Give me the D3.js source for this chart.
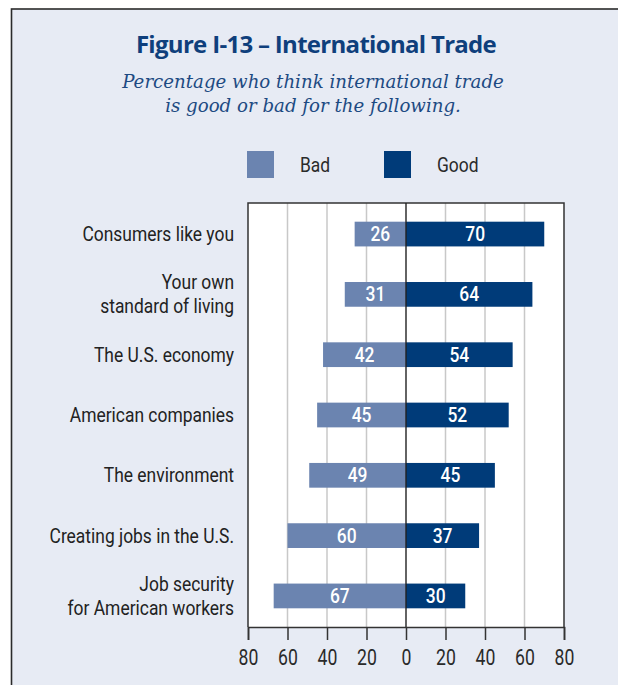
<!DOCTYPE html>
<html><head><meta charset="utf-8">
<script src="https://cdn.jsdelivr.net/npm/d3@7"></script>
<style>
html,body{margin:0;padding:0;background:#fff;}
svg{display:block;}
</style>
</head><body>
<script>
const categories = [
  ["Consumers like you"],
  ["Your own", "standard of living"],
  ["The U.S. economy"],
  ["American companies"],
  ["The environment"],
  ["Creating jobs in the U.S."],
  ["Job security", "for American workers"]
];
const badValues = [26, 31, 42, 45, 49, 60, 67];
const goodValues = [70, 64, 54, 52, 45, 37, 30];
const tickValues = [-80, -60, -40, -20, 0, 20, 40, 60, 80];
const seriesNames = ["Bad", "Good"];
const title = "Figure I-13 \u2013 International Trade";
const subtitle = ["Percentage who think international trade", "is good or bad for the following."];

const W = 618, H = 685;
const colBad = "#6b84b0", colGood = "#003b79", bg = "#e7ebf4";
const narrow = "'Liberation Sans Narrow','Arial Narrow','Roboto',sans-serif";
const SX = 0.83;

const svg = d3.select("body").append("svg").attr("width", W).attr("height", H);
svg.append("rect").attr("width", W).attr("height", H).attr("fill", "#fff");
svg.append("rect").attr("x", 11.5).attr("y", 9).attr("width", W + 20).attr("height", H + 20)
  .attr("fill", bg).attr("stroke", "#2b2b2b").attr("stroke-width", 1.6);

function ctext(g, tx, ty, str, size, fill, anchor, weight) {
  return g.append("text").attr("transform", `translate(${tx},${ty}) scale(${SX},1)`)
    .attr("text-anchor", anchor || "middle").attr("font-family", narrow).attr("font-size", size)
    .attr("font-weight", weight || 400).attr("fill", fill).text(str);
}

// Title
svg.append("text").attr("x", 316).attr("y", 53).attr("text-anchor", "middle")
  .attr("font-family", "'Open Sans','Noto Sans',sans-serif").attr("font-weight", 700)
  .attr("font-size", 24).attr("fill", "#0f3f7c").attr("letter-spacing", -0.7).text(title);
svg.selectAll("text.sub").data(subtitle).enter().append("text").attr("class", "sub")
  .attr("x", 313).attr("y", (d, i) => 88 + i * 24).attr("text-anchor", "middle")
  .attr("font-family", "'DejaVu Serif','Liberation Serif',serif").attr("font-style", "italic")
  .attr("font-size", 18.2).attr("fill", "#1d4a82").text(d => d);

// Scales
const x = d3.scaleLinear().domain([-80, 80]).range([248, 564]);
const y = d3.scaleBand().domain(d3.range(categories.length)).range([203, 627]).paddingInner(0.59).paddingOuter(0.31);

// plot bg
svg.append("rect").attr("x", x(-80)).attr("y", 203).attr("width", x(80) - x(-80)).attr("height", 627 - 203).attr("fill", "#fff");
// grid
svg.selectAll("line.grid").data(tickValues.filter(t => t !== 0 && Math.abs(t) !== 80)).enter().append("line")
  .attr("x1", d => x(d)).attr("x2", d => x(d)).attr("y1", 203).attr("y2", 627)
  .attr("stroke", "#c8c8c8").attr("stroke-width", 1.5);

// bars
const rows = categories.map((c, i) => ({c, i, bad: badValues[i], good: goodValues[i]}));
svg.selectAll("rect.bad").data(rows).enter().append("rect")
  .attr("x", d => x(-d.bad)).attr("y", d => y(d.i)).attr("width", d => x(0) - x(-d.bad)).attr("height", y.bandwidth())
  .attr("fill", colBad);
svg.selectAll("rect.good").data(rows).enter().append("rect")
  .attr("x", x(0)).attr("y", d => y(d.i)).attr("width", d => x(d.good) - x(0)).attr("height", y.bandwidth())
  .attr("fill", colGood);
rows.forEach(d => {
  const cy = y(d.i) + y.bandwidth() / 2 + 7;
  ctext(svg, (x(-d.bad) + x(0)) / 2, cy, d.bad, 21, "#fff", "middle", 500);
  ctext(svg, (x(d.good) + x(0)) / 2, cy, d.good, 21, "#fff", "middle", 500);
});

// frame
svg.append("path").attr("d", `M${x(-80)},627V203H${x(80)}V627`).attr("fill", "none").attr("stroke", "#333").attr("stroke-width", 1.5);
svg.append("line").attr("x1", x(0)).attr("x2", x(0)).attr("y1", 203).attr("y2", 627).attr("stroke", "#222").attr("stroke-width", 1.4);

// axis
const axis = d3.axisBottom(x).tickValues(tickValues).tickFormat(d => Math.abs(d)).tickSize(13).tickPadding(6);
const ag = svg.append("g").attr("transform", "translate(0,627)").call(axis);
ag.select(".domain").attr("stroke", "#333").attr("stroke-width", 1.6);
ag.selectAll(".tick line").attr("stroke", "#333").attr("stroke-width", 1.5);
ag.selectAll(".tick text").attr("font-family", narrow).attr("font-size", 22).attr("fill", "#2a2a2a")
  .attr("dy", null).attr("y", 38).attr("transform", `scale(${SX - 0.03},1)`);

// category labels
rows.forEach(d => {
  const cy = y(d.i) + y.bandwidth() / 2;
  const n = d.c.length;
  d.c.forEach((line, k) => {
    ctext(svg, 234, cy + 7 + (k - (n - 1) / 2) * 24, line, 21, "#222", "end");
  });
});

// legend
const leg = [{n: seriesNames[0], c: colBad, x: 247, tx: 300}, {n: seriesNames[1], c: colGood, x: 384, tx: 437}];
leg.forEach(l => {
  svg.append("rect").attr("x", l.x).attr("y", 151).attr("width", 27).attr("height", 27).attr("fill", l.c);
  ctext(svg, l.tx, 172, l.n, 21, "#2a2a2a", "start");
});
</script>
</body></html>
